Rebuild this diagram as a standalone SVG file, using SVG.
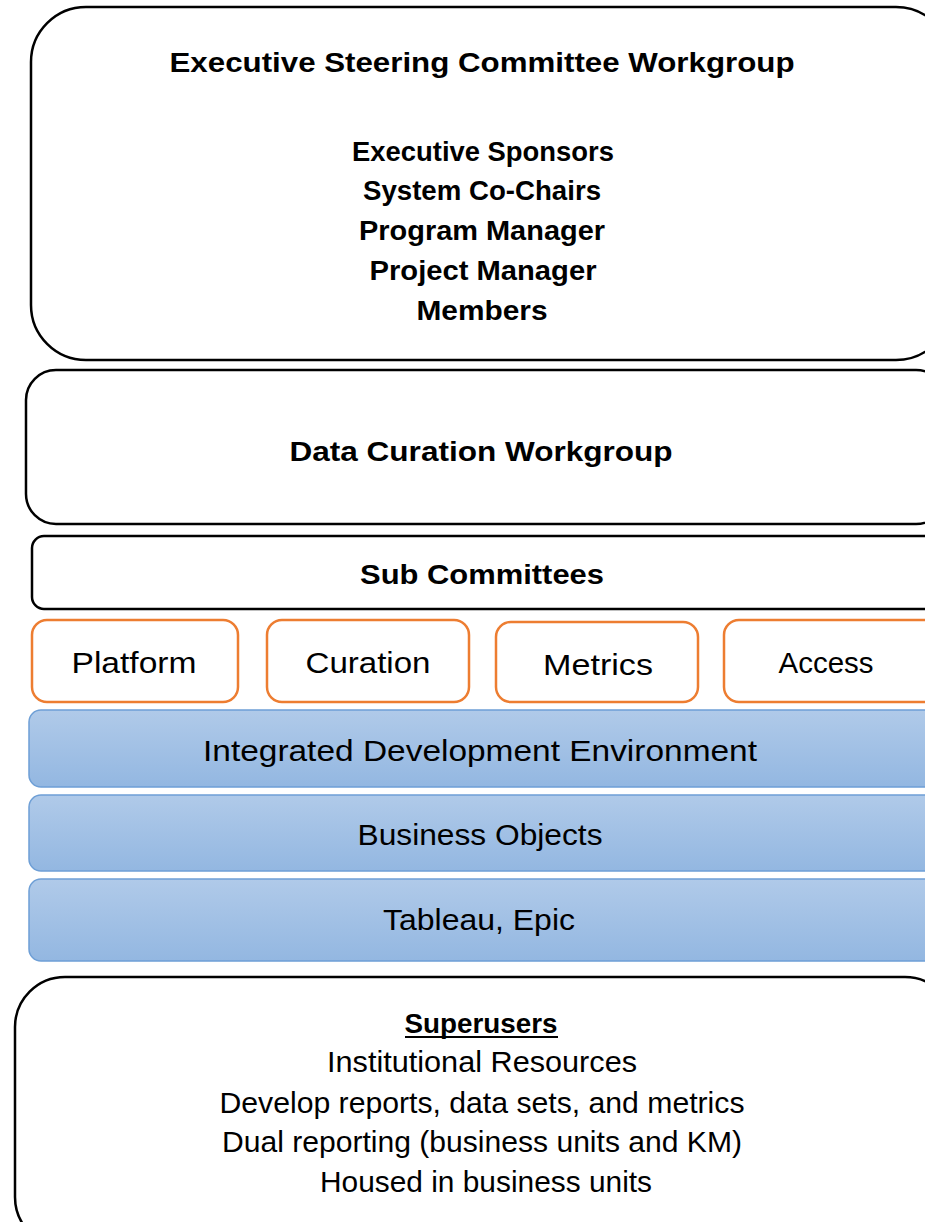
<svg xmlns="http://www.w3.org/2000/svg" width="925" height="1222" viewBox="0 0 925 1222">
<defs>
<linearGradient id="blue" x1="0" y1="0" x2="0" y2="1">
<stop offset="0" stop-color="#B0CAE9"/>
<stop offset="1" stop-color="#93B7E1"/>
</linearGradient>
</defs>
<style>
.bk{fill:#fff;stroke:#000;stroke-width:2.5}
.or{fill:#fff;stroke:#ED7D31;stroke-width:2.5}
.bl{fill:url(#blue);stroke:#6E9FD6;stroke-width:1.5}
text{font-family:"Liberation Sans",Arial,sans-serif;fill:#000;text-anchor:middle}
.b{font-weight:bold;font-size:27px}
.n{font-size:29px}
</style>
<rect width="925" height="1222" fill="#fff"/>
<g id="exec">
<rect class="bk" x="31" y="7" width="920" height="353" rx="55"/>
<text class="b" x="482" y="72" textLength="625" lengthAdjust="spacingAndGlyphs">Executive Steering Committee Workgroup</text>
<text class="b" x="483" y="161" textLength="262" lengthAdjust="spacingAndGlyphs">Executive Sponsors</text>
<text class="b" x="482" y="200" textLength="238" lengthAdjust="spacingAndGlyphs">System Co-Chairs</text>
<text class="b" x="482" y="240" textLength="246" lengthAdjust="spacingAndGlyphs">Program Manager</text>
<text class="b" x="483" y="280" textLength="227" lengthAdjust="spacingAndGlyphs">Project Manager</text>
<text class="b" x="482" y="320" textLength="131" lengthAdjust="spacingAndGlyphs">Members</text>
</g>
<g id="curation-wg">
<rect class="bk" x="26" y="370" width="920" height="154" rx="30"/>
<text class="b" x="481" y="461" textLength="383" lengthAdjust="spacingAndGlyphs">Data Curation Workgroup</text>
</g>
<g id="subcommittees">
<rect class="bk" x="32" y="536" width="910" height="73" rx="12"/>
<text class="b" x="482" y="584" textLength="244" lengthAdjust="spacingAndGlyphs">Sub Committees</text>
</g>
<g id="platform">
<rect class="or" x="32" y="620" width="206" height="82" rx="15"/>
<text class="n" x="134" y="673" textLength="125" lengthAdjust="spacingAndGlyphs">Platform</text>
</g>
<g id="curation">
<rect class="or" x="267" y="620" width="202" height="82" rx="15"/>
<text class="n" x="368" y="673" textLength="125" lengthAdjust="spacingAndGlyphs">Curation</text>
</g>
<g id="metrics">
<rect class="or" x="496" y="622" width="202" height="80" rx="15"/>
<text class="n" x="598" y="675" textLength="110" lengthAdjust="spacingAndGlyphs">Metrics</text>
</g>
<g id="access">
<rect class="or" x="724" y="620" width="220" height="82" rx="15"/>
<text class="n" x="826" y="673" textLength="95" lengthAdjust="spacingAndGlyphs">Access</text>
</g>
<g id="ide">
<rect class="bl" x="29" y="710" width="915" height="77" rx="12"/>
<text class="n" x="480" y="761" textLength="554" lengthAdjust="spacingAndGlyphs">Integrated Development Environment</text>
</g>
<g id="bo">
<rect class="bl" x="29" y="795" width="915" height="76" rx="12"/>
<text class="n" x="480" y="845" textLength="245" lengthAdjust="spacingAndGlyphs">Business Objects</text>
</g>
<g id="tableau">
<rect class="bl" x="29" y="879" width="915" height="82" rx="12"/>
<text class="n" x="479" y="930" textLength="192" lengthAdjust="spacingAndGlyphs">Tableau, Epic</text>
</g>
<g id="superusers">
<rect class="bk" x="15" y="977" width="940" height="270" rx="50"/>
<text class="b" x="481" y="1033" textLength="153" lengthAdjust="spacingAndGlyphs">Superusers</text>
<line x1="405" y1="1037" x2="558" y2="1037" stroke="#000" stroke-width="2"/>
<text class="n" x="482" y="1072" textLength="310" lengthAdjust="spacingAndGlyphs">Institutional Resources</text>
<text class="n" x="482" y="1113" textLength="525" lengthAdjust="spacingAndGlyphs">Develop reports, data sets, and metrics</text>
<text class="n" x="482" y="1152" textLength="520" lengthAdjust="spacingAndGlyphs">Dual reporting (business units and KM)</text>
<text class="n" x="486" y="1192" textLength="332" lengthAdjust="spacingAndGlyphs">Housed in business units</text>
</g>
<g id="connectors"/>
</svg>
